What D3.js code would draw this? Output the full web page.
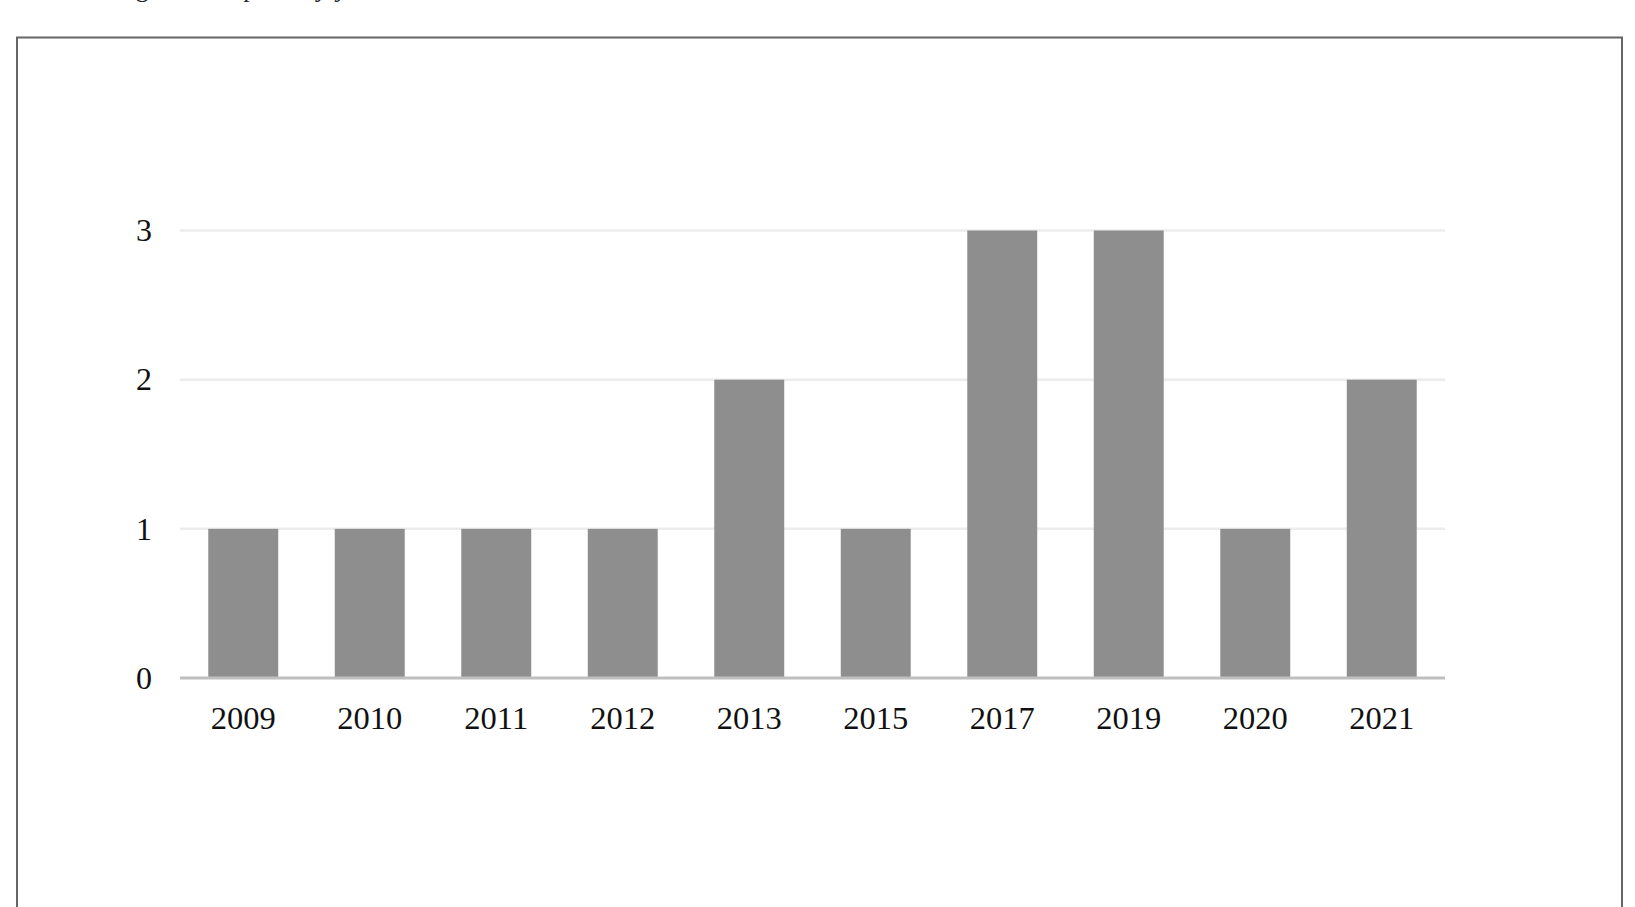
<!DOCTYPE html>
<html>
<head>
<meta charset="utf-8">
<script src="https://cdn.jsdelivr.net/npm/d3@7"></script>
<style>
  body { margin: 0; background: #fff; }
  svg { display: block; }
</style>
</head>
<body>
<div id="chart"></div>
<script>
// Data
const years = ["2009", "2010", "2011", "2012", "2013", "2015", "2017", "2019", "2020", "2021"];
const counts = [1, 1, 1, 1, 2, 1, 3, 3, 1, 2];
const yTicks = [0, 1, 2, 3];

const width = 1635, height = 907;
const font = "'Liberation Serif', 'Times New Roman', serif";

const svg = d3.select("#chart")
  .append("svg")
  .attr("width", width)
  .attr("height", height);

// caption from the page above, cut off at the top edge
svg.append("text")
  .attr("x", 114)
  .attr("y", -3)
  .attr("font-family", font)
  .attr("font-size", 26)
  .attr("fill", "#222")
  .text("Figure 2. Reports by year");

// frame round the chart
svg.append("rect")
  .attr("x", 17)
  .attr("y", 37.5)
  .attr("width", 1605)
  .attr("height", 900)
  .attr("fill", "none")
  .attr("stroke", "#666")
  .attr("stroke-width", 2);

const x = d3.scaleBand()
  .domain(years)
  .range([180, 1445])
  .paddingInner(0.447)
  .paddingOuter(0.2235);

const y = d3.scaleLinear()
  .domain([0, 3])
  .range([678, 230.5]);

// gridlines
svg.append("g")
  .selectAll("line")
  .data(yTicks.filter(d => d > 0))
  .join("line")
  .attr("x1", 180)
  .attr("x2", 1445)
  .attr("y1", d => y(d))
  .attr("y2", d => y(d))
  .attr("stroke", "#ececec")
  .attr("stroke-width", 2.5);

// bars
svg.append("g")
  .selectAll("rect")
  .data(years)
  .join("rect")
  .attr("x", d => x(d))
  .attr("y", (d, i) => y(counts[i]))
  .attr("width", x.bandwidth())
  .attr("height", (d, i) => y(0) - y(counts[i]))
  .attr("fill", "#8e8e8e");

// baseline
svg.append("line")
  .attr("x1", 180)
  .attr("x2", 1445)
  .attr("y1", y(0))
  .attr("y2", y(0))
  .attr("stroke", "#bfbfbf")
  .attr("stroke-width", 3);

// y axis labels
const yAxis = svg.append("g")
  .attr("transform", "translate(152,0)")
  .call(d3.axisLeft(y).tickValues(yTicks).tickSize(0).tickPadding(0).tickFormat(d3.format("d")));
yAxis.select(".domain").remove();
yAxis.selectAll("text")
  .attr("font-family", font)
  .attr("font-size", 32)
  .attr("fill", "#111");

// x axis labels
const xAxis = svg.append("g")
  .attr("transform", "translate(0," + y(0) + ")")
  .call(d3.axisBottom(x).tickSize(0).tickPadding(28));
xAxis.select(".domain").remove();
xAxis.selectAll("text")
  .attr("font-family", font)
  .attr("font-size", 32.5)
  .attr("fill", "#111");
</script>
</body>
</html>
